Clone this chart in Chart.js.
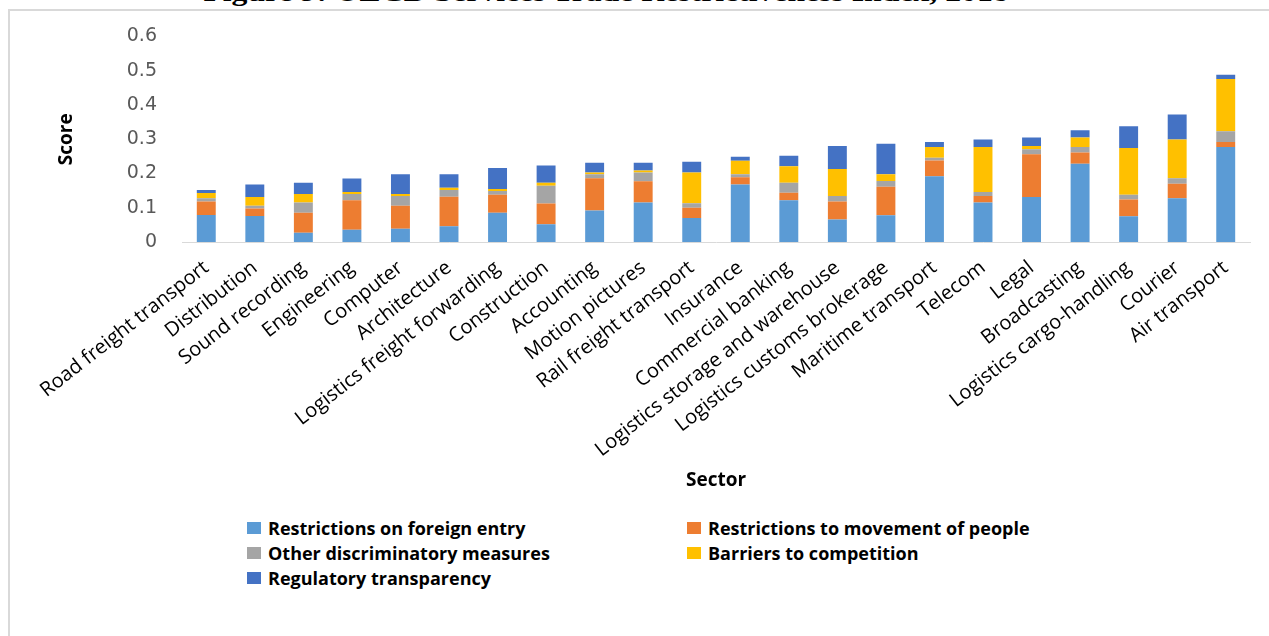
<!DOCTYPE html>
<html>
<head>
<meta charset="utf-8">
<script src="https://cdn.jsdelivr.net/npm/chart.js@4"></script>
<style>
  body { margin: 0; background: #fff; width: 1269px; height: 636px; overflow: hidden; position: relative; }
  #title {
    position: absolute; left: 0; top: -22px; width: 1212px; text-align: center;
    font: bold 26px "Liberation Serif", "DejaVu Serif", serif; line-height: 30px;
    transform: scaleX(1.22); transform-origin: 606px 0; white-space: nowrap;
  }
  #frame { position: absolute; left: 8px; top: 9px; width: 1300px; height: 700px; border: 2px solid #d9d9d9; }
  #wrap { position: absolute; left: 0; top: 0; width: 1269px; height: 500px; }
  #legend { position: absolute; left: 247px; top: 517px; display: grid; grid-template-columns: 440px 440px; row-gap: 3px;
    font: bold 18px "Open Sans", sans-serif; color: #000; }
  #legend div { display: flex; align-items: center; height: 22px; white-space: nowrap; }
  #legend span.box { display: inline-block; width: 14px; height: 12px; margin-right: 7px; }
</style>
</head>
<body>
<div id="title">Figure 9: OECD Services Trade Restrictiveness Index, 2018</div>
<div id="frame"></div>
<div id="wrap"><canvas id="chart"></canvas></div>
<div id="legend"></div>
<script>
const SECTORS = ["Road freight transport", "Distribution", "Sound recording", "Engineering", "Computer",
  "Architecture", "Logistics freight forwarding", "Construction", "Accounting", "Motion pictures",
  "Rail freight transport", "Insurance", "Commercial banking", "Logistics storage and warehouse",
  "Logistics customs brokerage", "Maritime transport", "Telecom", "Legal", "Broadcasting",
  "Logistics cargo-handling", "Courier", "Air transport"];

const FOREIGN_ENTRY = [0.079, 0.076, 0.027, 0.036, 0.039, 0.046, 0.085, 0.052, 0.092, 0.115, 0.070,
  0.168, 0.122, 0.066, 0.078, 0.192, 0.115, 0.131, 0.228, 0.075, 0.128, 0.277];
const MOVEMENT_PEOPLE = [0.039, 0.022, 0.058, 0.086, 0.067, 0.086, 0.053, 0.060, 0.094, 0.062, 0.030,
  0.021, 0.022, 0.052, 0.083, 0.046, 0.019, 0.125, 0.033, 0.049, 0.042, 0.015];
const OTHER_DISCRIM = [0.010, 0.008, 0.030, 0.018, 0.028, 0.020, 0.011, 0.052, 0.012, 0.026, 0.013,
  0.009, 0.029, 0.016, 0.017, 0.008, 0.012, 0.015, 0.016, 0.014, 0.016, 0.031];
const COMPETITION = [0.015, 0.025, 0.025, 0.006, 0.006, 0.006, 0.006, 0.009, 0.005, 0.006, 0.090,
  0.039, 0.048, 0.079, 0.020, 0.031, 0.131, 0.009, 0.028, 0.136, 0.113, 0.153];
const TRANSPARENCY = [0.009, 0.037, 0.033, 0.039, 0.058, 0.040, 0.061, 0.050, 0.028, 0.022, 0.031,
  0.012, 0.031, 0.067, 0.089, 0.015, 0.022, 0.025, 0.021, 0.064, 0.073, 0.012];

const SERIES = [
  { label: "Restrictions on foreign entry", data: FOREIGN_ENTRY, color: "#5B9BD5" },
  { label: "Restrictions to movement of people", data: MOVEMENT_PEOPLE, color: "#ED7D31" },
  { label: "Other discriminatory measures", data: OTHER_DISCRIM, color: "#A5A5A5" },
  { label: "Barriers to competition", data: COMPETITION, color: "#FFC000" },
  { label: "Regulatory transparency", data: TRANSPARENCY, color: "#4472C4" },
];

const chart = new Chart(document.getElementById("chart"), {
  type: "bar",
  data: {
    labels: SECTORS,
    datasets: SERIES.map(s => ({
      label: s.label,
      data: s.data,
      backgroundColor: s.color,
      barPercentage: 0.39,
      categoryPercentage: 1,
    }))
  },
  options: {
    responsive: true,
    maintainAspectRatio: false,
    animation: false,
    layout: { padding: { top: 34, right: 19, bottom: 0, left: 0 } },
    plugins: { legend: { display: false }, tooltip: { enabled: false } },
    scales: {
      x: {
        stacked: true,
        grid: { display: false, drawTicks: false },
        border: { display: true, color: "#d9d9d9", width: 1 },
        ticks: {
          autoSkip: false, minRotation: 38, maxRotation: 38, padding: 14,
          color: "#000", font: { family: "Open Sans", size: 20 }
        },
        title: {
          display: true, text: "Sector", color: "#000",
          font: { family: "Open Sans", size: 19, weight: "bold" },
          padding: { top: 0, bottom: 8 }
        },
        afterFit: scale => { scale.height = 500 - 242; }
      },
      y: {
        stacked: true,
        min: 0, max: 0.6,
        grid: { display: false, drawTicks: false },
        border: { display: false },
        ticks: {
          stepSize: 0.1, padding: 25, color: "#595959",
          font: { family: "DejaVu Sans", size: 19 }
        },
        title: {
          display: true, text: "Score", color: "#000",
          font: { family: "Open Sans", size: 19, weight: "bold" },
          padding: { top: 55, bottom: 0 }
        },
        afterFit: scale => { scale.width = 182; }
      }
    }
  }
});

const legend = document.getElementById("legend");
chart.data.datasets.forEach(ds => {
  const item = document.createElement("div");
  const box = document.createElement("span");
  box.className = "box";
  box.style.background = ds.backgroundColor;
  item.appendChild(box);
  item.appendChild(document.createTextNode(ds.label));
  legend.appendChild(item);
});
</script>
</body>
</html>
